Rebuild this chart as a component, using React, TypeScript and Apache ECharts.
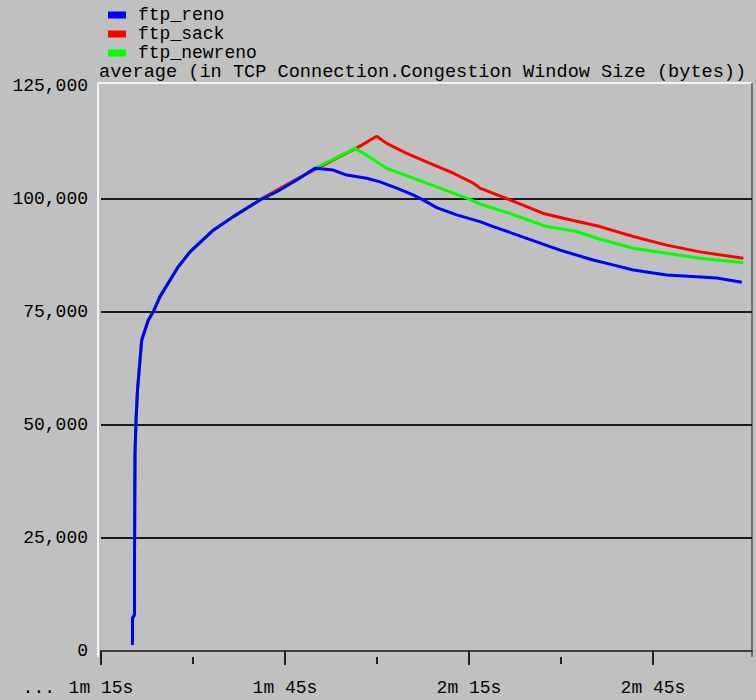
import React, { useEffect, useRef } from "react";
import * as echarts from "echarts";

// ---- data (seconds, bytes) ----
const seriesNames = ["ftp_reno", "ftp_sack", "ftp_newreno"];
const seriesColors = ["#0000ff", "#ff0000", "#00ff00"];

// slow-start ramp common to all three runs
const sharedTimes = [80.14, 80.14, 80.46, 80.46, 80.54, 80.71, 80.95, 81.36, 81.64, 82.71, 83.53, 84.62, 85.97, 87.6, 89.51, 93.31, 96.57, 100.92, 103.65, 106.9, 109.89];
const sharedValues = [1300, 7300, 8000, 20100, 43400, 51100, 57700, 64400, 68800, 73200, 75100, 78400, 81400, 85000, 88300, 93100, 96100, 99800, 101600, 104200, 106800];
const sackSharedCount = 18;
const newrenoSharedCount = 21;

const renoTimes = [112.83, 115.06, 118.32, 120.49, 123.21, 125.87, 127.5, 129.73, 133.0, 136.79, 138.96, 144.41, 149.84, 155.22, 157.99, 161.79, 167.24, 172.13, 175.39, 179.47];
const renoValues = [106400, 105300, 104600, 103800, 102400, 100900, 99800, 98100, 96500, 95000, 93900, 91300, 88700, 86500, 85600, 84300, 83200, 82800, 82500, 81600];

const sackTimes = [103.7, 106.9, 110.7, 113.97, 117.23, 119.95, 121.58, 124.84, 128.64, 132.44, 135.7, 136.79, 141.68, 147.11, 151.46, 156.35, 161.79, 167.23, 172.66, 179.72];
const sackValues = [102000, 104400, 107100, 109400, 111700, 113900, 112300, 110100, 107900, 105700, 103500, 102400, 99800, 96800, 95400, 93900, 91700, 89800, 88300, 86900];

const newrenoTimes = [113.15, 116.41, 118.32, 121.58, 125.92, 130.27, 134.63, 136.79, 141.68, 147.67, 152.56, 156.35, 161.79, 167.23, 172.66, 179.72];
const newrenoValues = [109000, 111200, 109700, 106800, 104600, 102400, 100200, 98900, 96800, 93900, 92800, 91100, 89100, 88000, 86900, 85900];

const xMin = 75;
const xMax = 181.14;
const majorTicks = [75, 105, 135, 165];
const minorTicks = [90, 120, 150];
const yTicks = [0, 25000, 50000, 75000, 100000, 125000];

const titleText = "average (in TCP Connection.Congestion Window Size (bytes))";

const FONT = "'Liberation Mono', 'DejaVu Sans Mono', monospace";
const BG = "#c0c0c0";

function pairs(ts: number[], vs: number[]) {
  return ts.map((t, i) => [t, vs[i]]);
}

function fmtTime(v: number) {
  const m = Math.floor(v / 60);
  const s = Math.round(v - m * 60);
  return `${m}m ${s}s`;
}

export default function App() {
  const ref = useRef<HTMLDivElement>(null);
  useEffect(() => {
    document.body.style.margin = "0";
    if (!ref.current) return;
    const chart = echarts.init(ref.current, null, { renderer: "svg" });

    const renoData = pairs(sharedTimes, sharedValues).concat(pairs(renoTimes, renoValues));
    const sackData = pairs(sharedTimes.slice(0, sackSharedCount), sharedValues.slice(0, sackSharedCount)).concat(pairs(sackTimes, sackValues));
    const newrenoData = pairs(sharedTimes.slice(0, newrenoSharedCount), sharedValues.slice(0, newrenoSharedCount)).concat(pairs(newrenoTimes, newrenoValues));

    const lineSeries = (name: string, color: string, data: number[][]) => ({
      name,
      type: "line",
      xAxisIndex: 0,
      yAxisIndex: 0,
      data,
      symbol: "none",
      showSymbol: false,
      color,
      lineStyle: { color, width: 3 },
    });

    chart.setOption({
      animation: false,
      backgroundColor: BG,
      textStyle: { fontFamily: FONT },
      title: {
        text: titleText,
        left: 99,
        top: 63,
        padding: 0,
        textStyle: { fontFamily: FONT, fontSize: 18.6, lineHeight: 19, fontWeight: "normal", color: "#000" },
      },
      legend: {
        data: seriesNames,
        orient: "vertical",
        left: 108,
        top: 6,
        padding: 0,
        itemGap: 1,
        itemWidth: 18,
        itemHeight: 7,
        icon: "rect",
        textStyle: { fontFamily: FONT, fontSize: 18, lineHeight: 18, color: "#000", padding: [0, 0, 0, 7] },
      },
      grid: { left: 101, top: 86, width: 651, height: 565, containLabel: false },
      xAxis: [
        {
          type: "value",
          min: xMin,
          max: xMax,
          position: "bottom",
          offset: 6,
          axisLine: { show: true, lineStyle: { color: "#404040", width: 2 } },
          axisTick: { show: true, customValues: majorTicks, length: 14, lineStyle: { color: "#202020", width: 2 } },
          axisLabel: {
            show: true,
            customValues: majorTicks,
            margin: 22,
            color: "#000",
            fontFamily: FONT,
            fontSize: 18,
            formatter: (v: number) => (v === majorTicks[0] ? `{p|...}${fmtTime(v)}{q|}` : fmtTime(v)),
            rich: {
              p: { width: 46, align: "left", fontFamily: FONT, fontSize: 18, color: "#000" },
              q: { width: 46, fontFamily: FONT, fontSize: 18 },
            },
          },
          splitLine: { show: false },
        },
        {
          type: "value",
          min: xMin,
          max: xMax,
          position: "bottom",
          offset: 6,
          axisLine: { show: false },
          axisTick: { show: true, customValues: minorTicks, length: 7, lineStyle: { color: "#202020", width: 2 } },
          axisLabel: { show: false },
          splitLine: { show: false },
        },
      ],
      yAxis: {
        type: "value",
        min: yTicks[0],
        max: yTicks[yTicks.length - 1],
        interval: yTicks[1] - yTicks[0],
        axisLine: { show: false },
        axisTick: { show: false },
        axisLabel: {
          margin: 13,
          color: "#000",
          fontFamily: FONT,
          fontSize: 18,
          formatter: (v: number) => v.toLocaleString("en-US"),
        },
        splitLine: { show: true, showMinLine: false, showMaxLine: false, lineStyle: { color: "#1a1a1a", width: 2 } },
      },
      graphic: [
        { type: "line", silent: true, shape: { x1: 98, y1: 83, x2: 752, y2: 83 }, style: { stroke: "#f4f4f4", lineWidth: 2 } },
        { type: "line", silent: true, shape: { x1: 98, y1: 83, x2: 98, y2: 657 }, style: { stroke: "#f4f4f4", lineWidth: 2 } },
        { type: "line", silent: true, shape: { x1: 752, y1: 83, x2: 752, y2: 657 }, style: { stroke: "#707070", lineWidth: 2 } },
      ],
      series: [
        lineSeries(seriesNames[1], seriesColors[1], sackData),
        lineSeries(seriesNames[2], seriesColors[2], newrenoData),
        lineSeries(seriesNames[0], seriesColors[0], renoData),
      ],
    });
    return () => chart.dispose();
  }, []);
  return <div ref={ref} style={{ width: 756, height: 700 }} />;
}
